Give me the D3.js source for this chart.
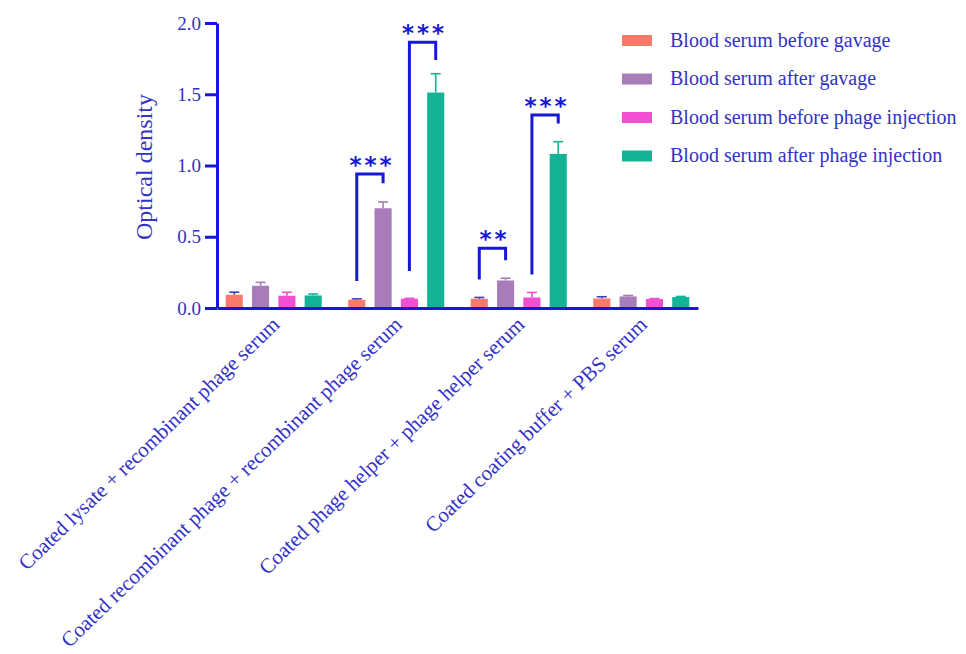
<!DOCTYPE html>
<html>
<head>
<meta charset="utf-8">
<script src="https://cdn.jsdelivr.net/npm/d3@7"></script>
<style>
  body { margin: 0; background: #fff; }
  svg text { font-family: "Liberation Serif", "Times New Roman", serif; }
</style>
</head>
<body>
<div id="chart"></div>
<script>
var width = 966, height = 654;

// groups on the x axis
var groups = [
  "Coated lysate + recombinant phage serum",
  "Coated recombinant phage + recombinant phage serum",
  "Coated phage helper + phage helper serum",
  "Coated coating buffer + PBS serum"
];

var series = [
  "Blood serum before gavage",
  "Blood serum after gavage",
  "Blood serum before phage injection",
  "Blood serum after phage injection"
];

var series_colors = ["#f97a6b", "#a77cb8", "#f24fd1", "#13b396"];
var error_colors = ["#3d3db8", "#a77cb8", "#f24fd1", "#13b396"];

// mean values, one array per series (one entry per group)
var before_gavage = [0.093, 0.058, 0.065, 0.067];
var after_gavage = [0.156, 0.700, 0.193, 0.081];
var before_injection = [0.086, 0.065, 0.074, 0.063];
var after_injection = [0.088, 1.512, 1.081, 0.077];

// upper error (sd) for each bar
var before_gavage_err = [0.018, 0.006, 0.009, 0.012];
var after_gavage_err = [0.024, 0.044, 0.016, 0.007];
var before_injection_err = [0.024, 0.003, 0.035, 0.003];
var after_injection_err = [0.010, 0.132, 0.086, 0.004];

var y_ticks = [0, 0.5, 1.0, 1.5, 2.0];

// significance brackets: group index, series from/to, leg bottoms and top (in OD units)
var brackets = [
  {group: 1, from: 0, to: 1, left: 0.19, top: 0.94, right: 0.875, label: "***"},
  {group: 1, from: 2, to: 3, left: 0.26, top: 1.865, right: 1.74, label: "***"},
  {group: 2, from: 0, to: 1, left: 0.20, top: 0.42, right: 0.335, label: "**"},
  {group: 2, from: 2, to: 3, left: 0.235, top: 1.355, right: 1.295, label: "***"}
];

var values = [before_gavage, after_gavage, before_injection, after_injection];
var errors = [before_gavage_err, after_gavage_err, before_injection_err, after_injection_err];

var axis_color = "#1717d8";
var text_color = "#3232c4";

var svg = d3.select("#chart").append("svg")
    .attr("width", width)
    .attr("height", height);

var y = d3.scaleLinear().domain([0, 2]).range([308, 23]);

var x0 = d3.scaleBand()
    .domain(groups)
    .range([217, 698])
    .paddingInner(0.216)
    .paddingOuter(0.071);

var x1 = d3.scaleBand()
    .domain(d3.range(series.length))
    .range([0, x0.bandwidth()])
    .paddingInner(0.35);

// flatten into bar records
var bars = [];
groups.forEach(function(g, gi) {
  series.forEach(function(s, si) {
    bars.push({group: g, gi: gi, si: si, value: values[si][gi], err: errors[si][gi]});
  });
});

var node = svg.selectAll(".bar")
  .data(bars)
  .enter().append("g")
    .attr("class", "bar")
    .attr("transform", function(d) { return "translate(" + (x0(d.group) + x1(d.si)) + ",0)"; });

// error bars (upper only)
node.append("line")
    .attr("x1", x1.bandwidth() / 2)
    .attr("x2", x1.bandwidth() / 2)
    .attr("y1", function(d) { return y(d.value); })
    .attr("y2", function(d) { return y(d.value + d.err); })
    .style("stroke", function(d) { return error_colors[d.si]; })
    .style("stroke-width", 1.6);

node.append("line")
    .attr("x1", x1.bandwidth() / 2 - 5)
    .attr("x2", x1.bandwidth() / 2 + 5)
    .attr("y1", function(d) { return y(d.value + d.err); })
    .attr("y2", function(d) { return y(d.value + d.err); })
    .style("stroke", function(d) { return error_colors[d.si]; })
    .style("stroke-width", 1.6);

node.append("rect")
    .attr("y", function(d) { return y(d.value); })
    .attr("width", x1.bandwidth())
    .attr("height", function(d) { return y(0) - y(d.value); })
    .style("fill", function(d) { return series_colors[d.si]; });

// axes
var yAxis = svg.append("g")
    .attr("transform", "translate(217,0)")
    .call(d3.axisLeft(y).tickValues(y_ticks).tickFormat(d3.format(".1f")).tickSize(12).tickSizeOuter(0).tickPadding(4));

yAxis.selectAll("path, line")
    .style("stroke", axis_color)
    .style("stroke-width", 3);
yAxis.selectAll("text")
    .style("font-family", "Liberation Serif")
    .style("font-size", "19px")
    .style("fill", text_color);

var xAxis = svg.append("g")
    .attr("transform", "translate(0,308)")
    .call(d3.axisBottom(x0).tickSize(0).tickSizeOuter(0));

xAxis.select(".domain")
    .style("stroke", axis_color)
    .style("stroke-width", 3);

xAxis.selectAll("text")
    .style("font-family", "Liberation Serif")
    .style("font-size", "21px")
    .style("fill", text_color)
    .attr("text-anchor", "end")
    .attr("x", 0)
    .attr("y", 0)
    .attr("dy", 0)
    .attr("transform", "translate(7,18) rotate(-44)");

// y axis title
svg.append("text")
    .attr("transform", "translate(152,167) rotate(-90)")
    .attr("text-anchor", "middle")
    .style("font-size", "24px")
    .style("fill", text_color)
    .text("Optical density");

// significance brackets
var bx = function(b, si) { return x0(groups[b.group]) + x1(si) + x1.bandwidth() / 2; };

svg.selectAll(".bracket")
  .data(brackets)
  .enter().append("path")
    .attr("class", "bracket")
    .attr("d", function(b) {
      return "M" + bx(b, b.from) + "," + y(b.left) +
        "V" + y(b.top) + "H" + bx(b, b.to) + "V" + y(b.right);
    })
    .style("fill", "none")
    .style("stroke", axis_color)
    .style("stroke-width", 3);

svg.selectAll(".stars")
  .data(brackets)
  .enter().append("text")
    .attr("class", "stars")
    .attr("x", function(b) { return (bx(b, b.from) + bx(b, b.to)) / 2 + 2; })
    .attr("y", function(b) { return y(b.top) - 1; })
    .attr("text-anchor", "middle")
    .style("font-family", "DejaVu Sans")
    .style("font-weight", "bold")
    .style("font-size", "23px")
    .style("letter-spacing", "3px")
    .style("fill", axis_color)
    .text(function(b) { return b.label; });

// legend
var legend = svg.selectAll(".legend")
  .data(series)
  .enter().append("g")
    .attr("class", "legend")
    .attr("transform", function(d, i) { return "translate(622," + (40 + i * 38.5) + ")"; });

legend.append("rect")
    .attr("y", -5)
    .attr("width", 30)
    .attr("height", 11)
    .style("fill", function(d, i) { return series_colors[i]; });

legend.append("text")
    .attr("x", 48)
    .attr("dy", "0.33em")
    .style("font-size", "20px")
    .style("fill", text_color)
    .text(function(d) { return d; });
</script>
</body>
</html>
